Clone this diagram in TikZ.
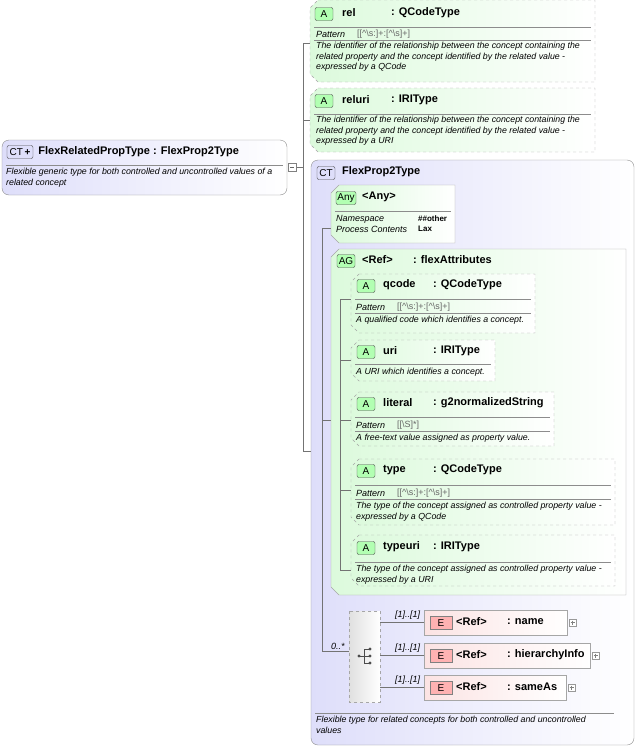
\documentclass[tikz,border=0pt]{standalone}
\usepackage{fontspec}
\setmainfont{Liberation Sans}
\usetikzlibrary{positioning}
\definecolor{attgreen}{RGB}{220,250,220}
\definecolor{ctblue}{RGB}{222,222,250}
\definecolor{elred}{RGB}{250,215,215}
\tikzset{basic/.style={inner sep=0pt,anchor=west}}
\tikzset{title/.style={basic,font=\fontsize{11}{12}\selectfont\bfseries}}
\tikzset{desc/.style={basic,anchor=north west,font=\fontsize{8.8}{10.5}\selectfont\itshape,align=left}}
\tikzset{small/.style={basic,font=\fontsize{9}{10}\selectfont}}
\tikzset{smallit/.style={small,font=\fontsize{9}{10}\selectfont\itshape}}
\tikzset{icon/.style={draw=black!70,rounded corners=2pt,fill=green!30!white,minimum width=18pt,minimum height=13pt,inner sep=1pt,font=\fontsize{10}{11}\selectfont}}
\tikzset{attr/.style={draw=black!35,dashed,left color=attgreen,right color=white}}
\tikzset{solidbox/.style={draw=black!35,left color=attgreen,right color=white}}
\tikzset{ctbox/.style={draw=black!45,rounded corners=7pt,left color=ctblue,right color=white}}
\tikzset{link/.style={draw=black!55,line width=0.4pt}}
\tikzset{sep/.style={draw=black!45}}
\newcommand{\chambox}[5]{\path[#5] (#1+8,#2) -- (#3,#2) -- (#3,#4) -- (#1+8,#4) -- (#1,#4-8) -- (#1,#2+8) -- cycle;}
\newcommand{\qpat}{[[\string^\string\s:]+:[\string^\string\s]+]}
\begin{document}
\begin{tikzpicture}[x=1pt,y=-1pt]
\useasboundingbox (0,0) rectangle (637,747);
% connectors of the outer type
\coordinate (j1) at (303,43);
\coordinate (j2) at (303,451);
\draw[link] (296,167) -- (303,167);
\draw[link] (j1) -- (j2) -- (311,451);
\draw[link] (j1) -- (310,43);
\draw[link] (303,120) -- (310,120);
% outer complex type
\path[ctbox] (2,140) rectangle (287,195);
\node[icon,fill=ctblue,minimum width=26pt] (ct0) at (20,152) {CT\,\textbf{+}};
\node[title,right=5pt of ct0] {FlexRelatedPropType : FlexProp2Type};
\draw[sep] (6,165) -- (283,165);
\node[desc] at (6,168) {Flexible generic type for both controlled and uncontrolled values of a\\related concept};
\draw[black!50,fill=white] (288,163) rectangle (296,171);
\draw[black!60] (290,167) -- (294,167);
% rel
\chambox{310}{0}{595}{82}{attr}
\node[icon] (arel) at (324,14) {A};
\node[title] at (342,13) {rel};
\node[title] at (391,13) {: QCodeType};
\draw[sep] (314,27) -- (591,27);
\node[smallit] at (316,34) {Pattern};
\node[small,text=black!60] at (357,34) {\qpat};
\draw[sep] (314,40) -- (591,40);
\node[desc] at (316,42) {The identifier of the relationship between the concept containing the\\related property and the concept identified by the related value -\\expressed by a QCode};
% reluri
\chambox{310}{88}{595}{152}{attr}
\node[icon] (areluri) at (324,101) {A};
\node[title] at (342,100) {reluri};
\node[title] at (391,100) {: IRIType};
\draw[sep] (314,114) -- (591,114);
\node[desc] at (316,116) {The identifier of the relationship between the concept containing the\\related property and the concept identified by the related value -\\expressed by a URI};
% FlexProp2Type
\path[ctbox] (311,160) rectangle (634,745);
\node[icon,fill=ctblue] (ct1) at (326,173) {CT};
\node[title] at (342,172) {FlexProp2Type};
\draw[link] (322,228) -- (322,651);
\draw[link] (322,228) -- (331,228);
\draw[link] (322,420) -- (331,420);
\draw[link] (322,651) -- (349,651);
\node[smallit] at (331,646) {0..*};
% any
\chambox{331}{185}{455}{243}{solidbox}
\node[icon,minimum width=20pt] (any) at (346,198) {Any};
\node[title] at (362,197) {<Any>};
\draw[sep] (335,211) -- (451,211);
\node[smallit] at (336,219) {Namespace};
\node[smallit] at (336,229) {Process Contents};
\node[small,font=\fontsize{8}{9}\selectfont\bfseries] at (418,219) {\#\#other};
\node[small,font=\fontsize{8}{9}\selectfont\bfseries] at (418,229) {Lax};
% attribute group
\chambox{331}{249}{626}{595}{solidbox}
\node[icon] (ag) at (346,261) {AG};
\node[title] at (362,260) {<Ref>};
\node[title] at (413,260) {: flexAttributes};
\draw[link] (340,299) -- (340,570);
\foreach \y in {299,360,420,490,570} \draw[link] (340,\y) -- (351,\y);
% qcode
\chambox{351}{274}{535}{333}{attr}
\node[icon] (aq) at (366,286) {A};
\node[title] at (383,285) {qcode};
\node[title] at (433,285) {: QCodeType};
\draw[sep] (355,299) -- (531,299);
\node[smallit] at (356,307) {Pattern};
\node[small,text=black!60] at (397,307) {\qpat};
\draw[sep] (355,313) -- (531,313);
\node[desc] at (356,316) {A qualified code which identifies a concept.};
% uri
\chambox{351}{340}{495}{381}{attr}
\node[icon] (au) at (366,352) {A};
\node[title] at (383,351) {uri};
\node[title] at (433,351) {: IRIType};
\draw[sep] (355,364) -- (491,364);
\node[desc] at (356,368) {A URI which identifies a concept.};
% literal
\chambox{351}{392}{554}{446}{attr}
\node[icon] (al) at (366,404) {A};
\node[title] at (383,403) {literal};
\node[title] at (433,403) {: g2normalizedString};
\draw[sep] (355,417) -- (550,417);
\node[smallit] at (356,425) {Pattern};
\node[small,text=black!60] at (397,425) {[[\string\S ]*]};
\draw[sep] (355,431) -- (550,431);
\node[desc] at (356,434) {A free-text value assigned as property value.};
% type
\chambox{351}{459}{615}{525}{attr}
\node[icon] (at) at (366,471) {A};
\node[title] at (383,470) {type};
\node[title] at (433,470) {: QCodeType};
\draw[sep] (355,485) -- (611,485);
\node[smallit] at (356,493) {Pattern};
\node[small,text=black!60] at (397,493) {\qpat};
\draw[sep] (355,499) -- (611,499);
\node[desc] at (356,502) {The type of the concept assigned as controlled property value -\\expressed by a QCode};
% typeuri
\chambox{351}{535}{615}{586}{attr}
\node[icon] (atu) at (366,548) {A};
\node[title] at (383,547) {typeuri};
\node[title] at (433,547) {: IRIType};
\draw[sep] (355,562) -- (611,562);
\node[desc] at (356,565) {The type of the concept assigned as controlled property value -\\expressed by a URI};
% sequence
\path[draw=black!35,dashed,left color=black!12,right color=white] (349,611) rectangle (380,702);
\draw[black!70] (359,656) -- (364,656) (364,649) -- (364,663) (364,649) -- (369,649) (364,656) -- (369,656) (364,663) -- (369,663);
\fill[black!70] (359,656) circle (1.6) (370,649) circle (1.6) (370,656) circle (1.6) (370,663) circle (1.6);
\foreach \y/\n/\w/\r in {622/name/567/seq1,655/hierarchyInfo/590/seq2,687/sameAs/566/seq3}{
  \draw[link] (380,\y) -- (424,\y);
  \node[smallit] at (395,\y-7) {[1]..[1]};
  \path[draw=black!35,fill=white,left color=elred!70,right color=white] (424,\y-12) rectangle (\w,\y+13);
  \node[icon,fill=red!30,minimum width=22pt,draw=black!50,rounded corners=0pt] (\r) at (441,\y+1) {E};
  \node[title] at (456,\y) {<Ref>};
  \node[title] at (507,\y) {: \n};
  \draw[black!40,fill=white] (\w+2,\y-3) rectangle (\w+9,\y+4);
  \draw[black!50] (\w+3.5,\y+0.5) -- (\w+7.5,\y+0.5) (\w+5.5,\y-1.5) -- (\w+5.5,\y+2.5);
}
\draw[sep] (315,713) -- (614,713);
\node[desc] at (316,716) {Flexible type for related concepts for both controlled and uncontrolled\\values};
\end{tikzpicture}
\end{document}
